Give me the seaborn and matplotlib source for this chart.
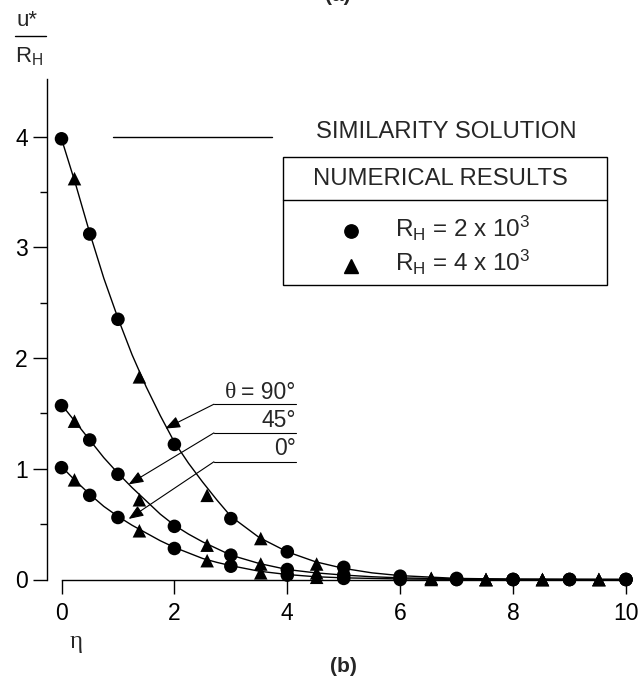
import numpy as np
import pandas as pd
import matplotlib
matplotlib.use("Agg")
import matplotlib.pyplot as plt
from matplotlib.patches import Rectangle
from matplotlib.lines import Line2D
import seaborn as sns

# similarity solution curves
eta_line = [0, 0.25, 0.5, 0.75, 1, 1.25, 1.5, 1.75, 2, 2.25, 2.5, 2.75, 3,
            3.5, 4, 4.5, 5, 5.5, 6, 7, 8, 9, 10]
u_90 = [3.98, 3.57, 3.13, 2.72, 2.36, 2.03, 1.74, 1.48, 1.24, 1.05, 0.88, 0.72, 0.57,
        0.38, 0.25, 0.16, 0.10, 0.06, 0.035, 0.01, 0.003, 0.001, 0.0]
u_45 = [1.58, 1.42, 1.26, 1.10, 0.96, 0.83, 0.71, 0.59, 0.49, 0.41, 0.34, 0.28, 0.22,
        0.145, 0.09, 0.06, 0.04, 0.025, 0.015, 0.005, 0.002, 0.001, 0.0]
u_0 = [1.02, 0.89, 0.77, 0.66, 0.57, 0.49, 0.42, 0.35, 0.29, 0.24, 0.19, 0.155, 0.125,
       0.075, 0.045, 0.025, 0.015, 0.01, 0.005, 0.001, 0.0, 0.0, 0.0]

# numerical results, R_H = 2 x 10^3 (circles)
eta_c = [0, 0.5, 1, 2, 3, 4, 5, 6, 7, 8, 9, 10]
c_90 = [3.98, 3.12, 2.35, 1.22, 0.55, 0.25, 0.11, 0.03, 0.01, 0.0, 0.0, 0.0]
c_45 = [1.57, 1.26, 0.95, 0.48, 0.22, 0.09, 0.04, 0.01, 0.0, 0.0, 0.0, 0.0]
c_0 = [1.01, 0.76, 0.56, 0.28, 0.12, 0.04, 0.01, 0.0, 0.0, 0.0, 0.0, 0.0]

# numerical results, R_H = 4 x 10^3 (triangles)
eta_t = [0.23, 1.38, 2.58, 3.53, 4.52, 6.55, 7.52, 8.52, 9.52]
t_90 = [3.62, 1.83, 0.76, 0.37, 0.14, 0.01, 0.0, 0.0, 0.0]
t_45 = [1.43, 0.72, 0.31, 0.14, 0.06, 0.01, 0.0, 0.0, 0.0]
t_0 = [0.90, 0.44, 0.17, 0.06, 0.02, 0.0, 0.0, 0.0, 0.0]

theta_labels = ["= 90°", "45°", "0°"]

sns.set_theme(style="ticks")
plt.rcParams['font.family'] = ['Liberation Sans', 'DejaVu Sans']
plt.rcParams['mathtext.default'] = 'regular'
serif = ['Liberation Serif', 'DejaVu Serif']

W, H = 641, 683
fig = plt.figure(figsize=(W / 100, H / 100), dpi=100)


def fx(px):
    return px / W


def fy(py):
    return 1 - py / H


ax = fig.add_axes([fx(61.5), fy(579.5), fx(626) - fx(61.5), fy(79) - fy(579.5)])

lines = pd.DataFrame({"eta": eta_line * 3,
                      "u": u_90 + u_45 + u_0,
                      "theta": ["90"] * len(eta_line) + ["45"] * len(eta_line) + ["0"] * len(eta_line)})
for th in ["90", "45", "0"]:
    sub = lines[lines.theta == th]
    sns.lineplot(data=sub, x="eta", y="u", color="black", lw=1.0, sort=False,
                 estimator=None, ax=ax, legend=False)

pts = pd.DataFrame({
    "eta": eta_c * 3 + eta_t * 3,
    "u": c_90 + c_45 + c_0 + t_90 + t_45 + t_0,
    "RH": ["2e3"] * (3 * len(eta_c)) + ["4e3"] * (3 * len(eta_t)),
})
sns.scatterplot(data=pts, x="eta", y="u", style="RH", markers={"2e3": "o", "4e3": "^"},
                color="black", s=95, edgecolor="black", linewidth=0, ax=ax,
                legend=False, clip_on=False, zorder=3)

ax.set_xlim(0, 10)
ax.set_ylim(0, 4.52)
ax.set_xticks([0, 2, 4, 6, 8, 10])
ax.set_yticks([0, 1, 2, 3, 4])
ax.set_yticks(np.arange(0.5, 4.5, 1.0), minor=True)
ax.set_xlabel("")
ax.set_ylabel("")
for s in ["top", "right"]:
    ax.spines[s].set_visible(False)
ax.spines["left"].set_position(("outward", 10.8))
ax.spines["left"].set_bounds(0, 4.52)
for s in ["left", "bottom"]:
    ax.spines[s].set_linewidth(1.0)
    ax.spines[s].set_color("black")
ax.tick_params(axis="both", which="major", direction="out", length=10, width=1.0,
               colors="black", labelsize=16.5)
ax.tick_params(axis="y", which="major", pad=3.5)
ax.tick_params(axis="y", which="minor", direction="out", length=5, width=1.0, colors="black")
ax.tick_params(axis="x", which="major", pad=6.5)

# theta annotations
tips = [(1.84, 1.363), (1.19, 0.859), (1.19, 0.547)]
knees = [(2.70, 1.583), (2.70, 1.324), (2.70, 1.063)]
text_y = [1.69, 1.44, 1.18]
for lab, tip, knee, ty in zip(theta_labels, tips, knees, text_y):
    ax.plot([knee[0], 4.15], [knee[1], knee[1]], color="black", lw=0.8)
    ax.annotate("", xy=tip, xytext=knee,
                arrowprops=dict(arrowstyle="-|>,head_length=0.45,head_width=0.18",
                                color="black", lw=0.8, mutation_scale=20,
                                shrinkA=0, shrinkB=0))
    t = ax.text(4.15, ty, lab, ha="right", va="center", fontsize=16.5)
    if lab.startswith("="):
        ax.annotate("θ", xy=(0, 0.5), xycoords=t, xytext=(-4, 0), textcoords="offset points",
                    ha="right", va="center", fontsize=17, family=serif)

# legend drawn in data coordinates
ax.plot([0.92, 3.73], [4.0, 4.0], color="black", lw=1.0)
ax.text(4.5, 4.04, "SIMILARITY SOLUTION", ha="left", va="center", fontsize=17.2)
ax.add_patch(Rectangle((3.92, 2.66), 9.66 - 3.92, 3.82 - 2.66, fill=False,
                       edgecolor="black", lw=1.0))
ax.plot([3.92, 9.66], [3.43, 3.43], color="black", lw=1.0)
ax.text(4.46, 3.62, "NUMERICAL RESULTS", ha="left", va="center", fontsize=17.2)
ax.plot([5.12], [3.15], marker="o", color="black", ms=9.6, ls="none")
ax.plot([5.12], [2.83], marker="^", color="black", ms=9.6, ls="none")
ax.text(5.91, 3.17, r"R$_{H}$ = 2 x 10$^{3}$", ha="left", va="center", fontsize=17.5)
ax.text(5.91, 2.86, r"R$_{H}$ = 4 x 10$^{3}$", ha="left", va="center", fontsize=17.5)

# axis labels
fig.text(fx(27), fy(21), "u*", ha="center", va="center", fontsize=16)
fig.add_artist(Line2D([fx(15), fx(46)], [fy(36), fy(36)], color="black", lw=1.0))
fig.text(fx(15), fy(57), r"R$_{H}$", ha="left", va="center", fontsize=16)
fig.text(fx(76), fy(642), "η", ha="center", va="center", fontsize=18, family=serif)
fig.text(fx(343), fy(667), "(b)", ha="center", va="center", fontsize=15, weight="bold")
fig.text(fx(338), fy(1), "(a)", ha="center", va="baseline", fontsize=15, weight="bold")

fig.savefig("out.png", dpi=100)
